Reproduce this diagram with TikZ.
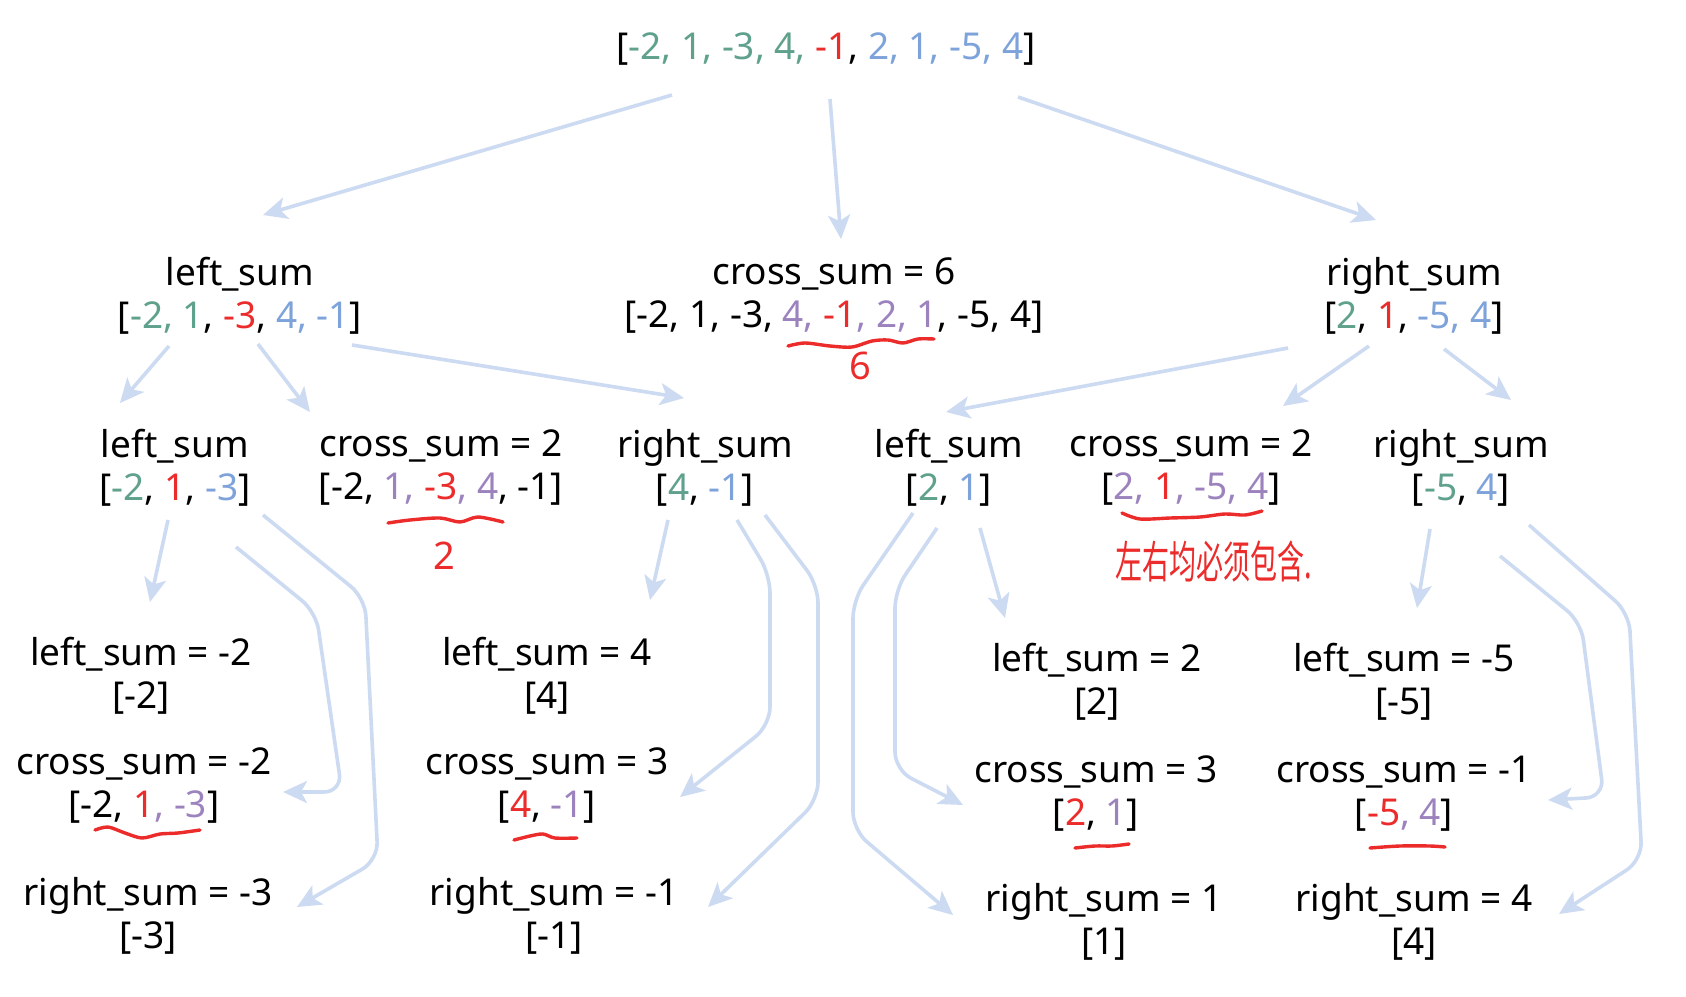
\documentclass[tikz,border=0pt]{standalone}
\usepackage{fontspec}
\setmainfont{Noto Sans}
\newfontfamily\cjk{Noto Sans CJK SC}
\usetikzlibrary{arrows.meta,calc}
\definecolor{cg}{HTML}{5FA18C}
\definecolor{cb}{HTML}{7EA3DB}
\definecolor{cr}{HTML}{EC2B2B}
\definecolor{cp}{HTML}{9C83BE}
\definecolor{arr}{HTML}{CCDBF1}
\newcommand{\colG}[1]{\textcolor{cg}{#1}}
\newcommand{\colB}[1]{\textcolor{cb}{#1}}
\newcommand{\colR}[1]{\textcolor{cr}{#1}}
\newcommand{\colP}[1]{\textcolor{cp}{#1}}
\begin{document}
\begin{tikzpicture}[x=1pt,y=-1pt,
  lbl/.style={align=center,font=\fontsize{37}{43}\selectfont,inner sep=0pt},
  conn/.style={draw=arr,line width=3.6pt,rounded corners=18pt,-{Stealth[length=24pt,width=22pt,inset=6pt]}},
  squig/.style={draw=cr,line width=3.4pt,line cap=round,line join=round},
  hand/.style={text=cr,font=\fontsize{38}{38}\selectfont,inner sep=0pt}]
\fill[white] (0,0) rectangle (1686,996);
\useasboundingbox (0,0) rectangle (1686,996);

% level 0
\node[lbl] (top) at (826,49) {[\colG{-2, 1, -3, 4, }\colR{-1}, \colB{2, 1, -5, 4}]};
% level 1
\node[lbl] (L) at (240,296) {left\_sum\\{}[\colG{-2, 1}, \colR{-3}, \colB{4, -1}]};
\node[lbl] (X) at (834,296) {cross\_sum = 6\\{}[-2, 1, -3, \colP{4, }\colR{-1}\colP{, 2, 1}, -5, 4]};
\node[lbl] (R) at (1414,296) {right\_sum\\{}[\colG{2}, \colR{1}, \colB{-5, 4}]};
% level 2
\node[lbl] (A) at (175,468) {left\_sum\\{}[\colG{-2}, \colR{1}, \colB{-3}]};
\node[lbl] (B) at (441,468) {cross\_sum = 2\\{}[-2, \colP{1, }\colR{-3}\colP{, 4}, -1]};
\node[lbl] (C) at (705,468) {right\_sum\\{}[\colG{4}, \colB{-1}]};
\node[lbl] (D) at (949,468) {left\_sum\\{}[\colG{2}, \colB{1}]};
\node[lbl] (E) at (1191,468) {cross\_sum = 2\\{}[\colP{2, }\colR{1}\colP{, -5, 4}]};
\node[lbl] (F) at (1461,468) {right\_sum\\{}[\colG{-5}, \colB{4}]};
% level 3
\node[lbl] (a1) at (141,676) {left\_sum = -2\\{}[-2]};
\node[lbl] (a2) at (144,786) {cross\_sum = -2\\{}[-2, \colR{1}\colP{, -3}]};
\node[lbl] (a3) at (148,916) {right\_sum = -3\\{}[-3]};
\node[lbl] (b1) at (547,676) {left\_sum = 4\\{}[4]};
\node[lbl] (b2) at (547,786) {cross\_sum = 3\\{}[\colR{4}, \colP{-1}]};
\node[lbl] (b3) at (554,916) {right\_sum = -1\\{}[-1]};
\node[lbl] (c1) at (1097,682) {left\_sum = 2\\{}[2]};
\node[lbl] (c2) at (1096,794) {cross\_sum = 3\\{}[\colR{2}, \colP{1}]};
\node[lbl] (c3) at (1104,922) {right\_sum = 1\\{}[1]};
\node[lbl] (d1) at (1404,682) {left\_sum = -5\\{}[-5]};
\node[lbl] (d2) at (1404,794) {cross\_sum = -1\\{}[\colR{-5}\colP{, 4}]};
\node[lbl] (d3) at (1414,922) {right\_sum = 4\\{}[4]};

% handwritten notes
\node[hand] (n6) at (860,366) {6};
\node[hand] (n2) at (444,556) {2};
\node[text=cr,inner sep=0pt] (nz) at (1214,561) {\scalebox{1}[1.65]{\cjk\fontsize{27}{27}\selectfont 左右均必须包含.}};

% squiggles
\draw[squig] plot[smooth] coordinates {(788,346) (805,343) (830,346) (852,347) (872,341) (888,340) (903,343) (918,339) (934,339)};
\draw[squig] plot[smooth] coordinates {(388,523) (410,520) (440,518) (460,522) (478,517) (503,522)};
\draw[squig] plot[smooth] coordinates {(1122,513) (1140,519) (1170,518) (1200,517) (1225,514) (1245,515) (1262,511)};
\draw[squig] plot[smooth] coordinates {(95,830) (108,827) (125,833) (142,838) (160,834) (178,833) (200,830)};
\draw[squig] plot[smooth] coordinates {(514,840) (530,836) (543,834) (555,838) (577,838)};
\draw[squig] plot[smooth] coordinates {(1075,848) (1095,846) (1112,846) (1129,844)};
\draw[squig] plot[smooth] coordinates {(1370,848) (1400,846) (1430,846) (1445,847)};

% connectors level 0 -> 1
\draw[conn] ($(top)+(-154,46)$) -- ($(L)+(23,-81)$);
\draw[conn] ($(top)+(4,50)$) -- ($(X)+(7,-57)$);
\draw[conn] ($(top)+(192,48)$) -- ($(R)+(-38,-76)$);
% level 1 -> 2
\draw[conn] ($(L)+(-71,50)$) -- ($(A)+(-55,-65)$);
\draw[conn] ($(L)+(18,48)$) -- ($(B)+(-131,-56)$);
\draw[conn] ($(L)+(112,49)$) -- ($(C)+(-21,-70)$);
\draw[conn] ($(R)+(-126,52)$) -- ($(D)+(-3,-56)$);
\draw[conn] ($(R)+(-45,50)$) -- ($(E)+(92,-62)$);
\draw[conn] ($(R)+(30,53)$) -- ($(F)+(50,-68)$);
% level 2 -> 3
\draw[conn] ($(A)+(-7,52)$) -- ($(a1)+(9,-74)$);
\draw[conn] ($(A)+(61,79)$) -- (316,612) -- (342,792) -- ($(a2)+(139,6)$);
\draw[conn] ($(A)+(88,47)$) -- (365,598) -- (378,860) -- ($(a3)+(149,-9)$);
\draw[conn] ($(C)+(-37,52)$) -- ($(b1)+(103,-76)$);
\draw[conn] ($(C)+(32,52)$) -- (770,575) -- (770,725) -- ($(b2)+(133,11)$);
\draw[conn] ($(C)+(60,47)$) -- (818,585) -- (818,800) -- ($(b3)+(154,-9)$);
\draw[conn] ($(D)+(31,60)$) -- ($(c1)+(-92,-64)$);
\draw[conn] ($(D)+(-12,60)$) -- (895,590) -- (895,770) -- ($(c2)+(-133,11)$);
\draw[conn] ($(D)+(-36,45)$) -- (853,600) -- (853,830) -- ($(c3)+(-151,-7)$);
\draw[conn] ($(F)+(-31,61)$) -- ($(d1)+(13,-74)$);
\draw[conn] ($(F)+(39,88)$) -- (1581,622) -- (1604,797) -- ($(d2)+(144,6)$);
\draw[conn] ($(F)+(68,57)$) -- (1629,613) -- (1642,860) -- ($(d3)+(145,-8)$);
\end{tikzpicture}
\end{document}
